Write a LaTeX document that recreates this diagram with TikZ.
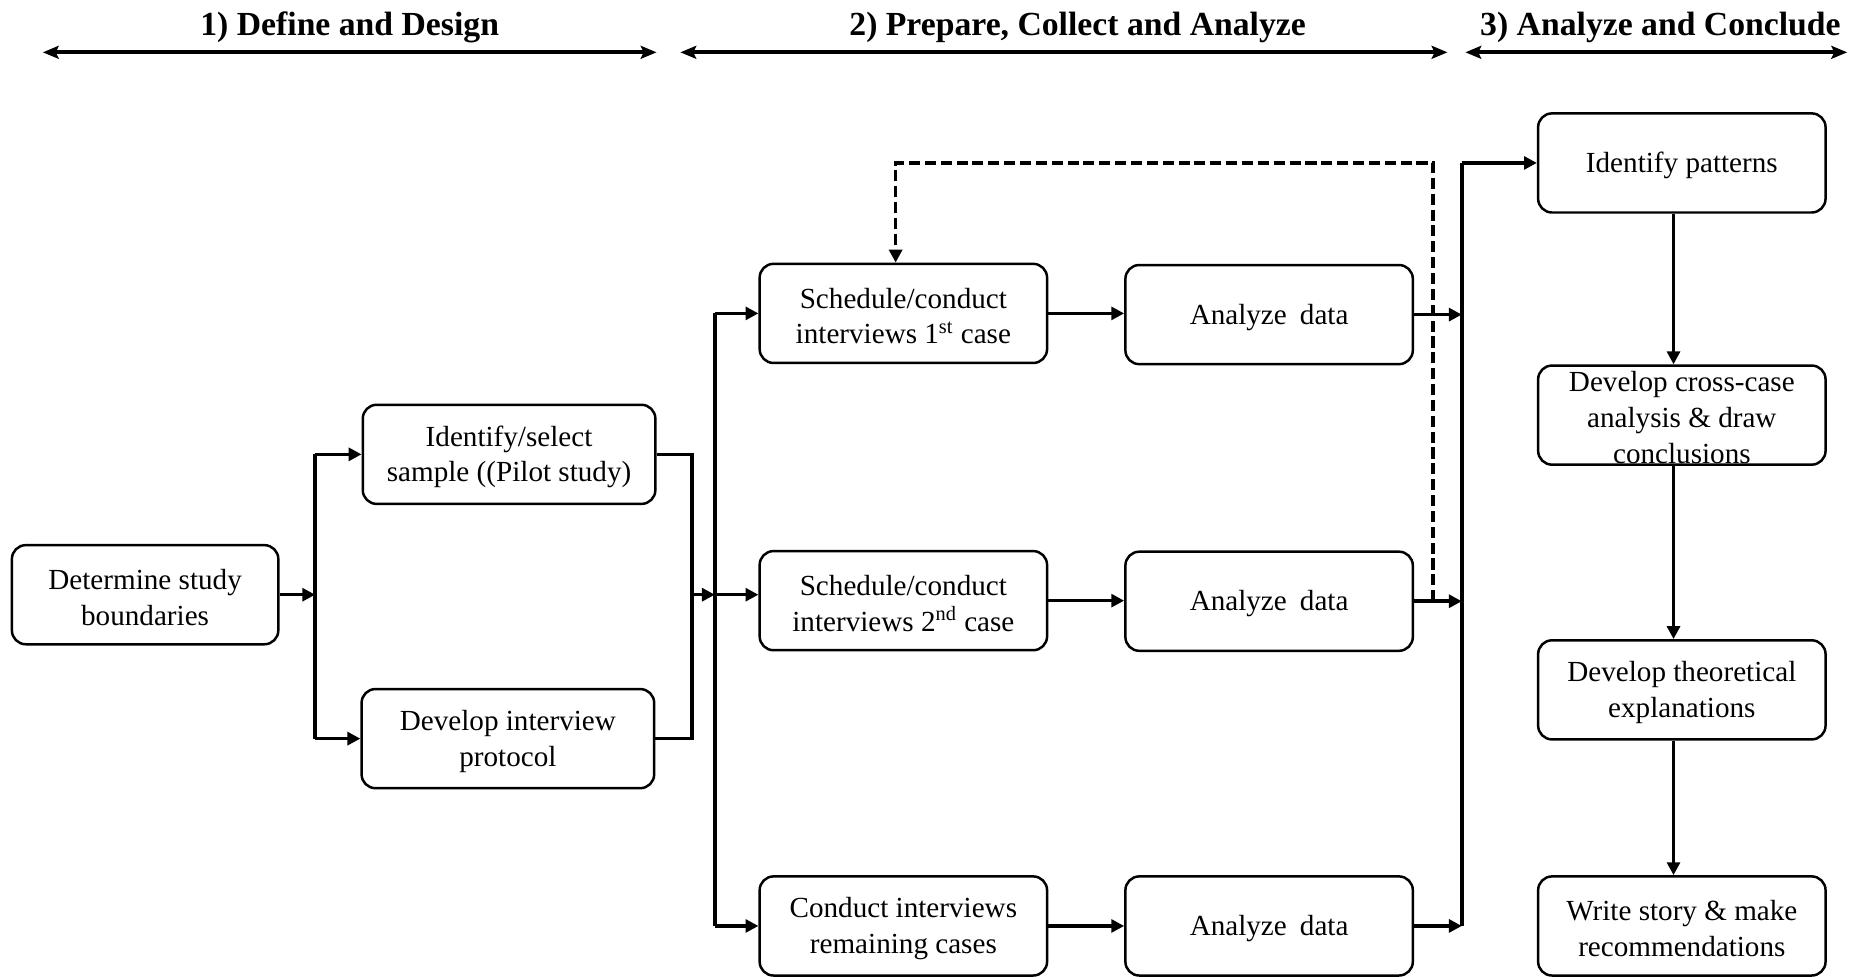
\documentclass[tikz,border=0pt]{standalone}
\usepackage{fontspec}
\setmainfont{Liberation Serif}
\usetikzlibrary{arrows.meta}
\begin{document}
\begin{tikzpicture}[x=0.6pt,y=-0.6pt,
  stepbox/.style={draw, line width=1.25pt, rounded corners=7pt, minimum width=145pt,
    minimum height=50pt, inner sep=0pt},
  boxtext/.style={align=center, inner sep=0pt, yshift=-1.3pt,
    font=\fontsize{14.7}{18}\selectfont},
  flow/.style={line width=1.8pt, -{Triangle[length=6.5pt,width=6.5pt]}},
  link/.style={line width=1.8pt},
  feedback/.style={line width=1.8pt, dash pattern=on 5.6pt off 2.4pt,
    -{Triangle[length=6.5pt,width=6.5pt]}},
  phase/.style={font=\fontsize{17}{20}\selectfont\bfseries, anchor=base, inner sep=0pt},
  phasearrow/.style={line width=2pt,
    {Stealth[length=8pt,width=6.5pt,inset=1.5pt]}-{Stealth[length=8pt,width=6.5pt,inset=1.5pt]}},
]
\useasboundingbox (0,0) rectangle (1568,821);

% phase headings and their spans
\node[phase] (h1) at (294,29.5) {1) Define and Design};
\node[phase] (h2) at (906,29.5) {2) Prepare, Collect and Analyze};
\node[phase] (h3) at (1396,29.5) {3) Analyze and Conclude};
\coordinate (s1l) at (36,44);   \coordinate (s1r) at (552,44);
\coordinate (s2l) at (572,44);  \coordinate (s2r) at (1217,44);
\coordinate (s3l) at (1232,44); \coordinate (s3r) at (1553,44);
\draw[phasearrow] (s1l) -- (s1r);
\draw[phasearrow] (s2l) -- (s2r);
\draw[phasearrow] (s3l) -- (s3r);

% boxes, each with its text set as a centred label
\node[stepbox, minimum width=134.4pt, label={[boxtext]center:{Determine study\\boundaries}}] (det) at (122,500) {};
\node[stepbox, minimum width=147.6pt, label={[boxtext]center:{Identify/select\\sample ((Pilot study)}}] (idsel) at (428,382) {};
\node[stepbox, minimum width=147.6pt, label={[boxtext]center:{Develop interview\\protocol}}] (proto) at (427,621) {};

\node[stepbox, label={[boxtext]center:{Schedule/conduct\\interviews 1\textsuperscript{st} case}}] (sch1) at (759.5,263.5) {};
\node[stepbox, label={[boxtext]center:{Schedule/conduct\\interviews 2\textsuperscript{nd} case}}] (sch2) at (759.5,505) {};
\node[stepbox, label={[boxtext]center:{Conduct interviews\\remaining cases}}] (rem) at (759.5,778.5) {};

\node[stepbox, label={[boxtext]center:{Analyze\hspace{0.45em}data}}] (ana1) at (1067,264.5) {};
\node[stepbox, label={[boxtext]center:{Analyze\hspace{0.45em}data}}] (ana2) at (1067,505.5) {};
\node[stepbox, label={[boxtext]center:{Analyze\hspace{0.45em}data}}] (ana3) at (1067,778.5) {};

\node[stepbox, label={[boxtext]center:{Identify patterns}}] (pat) at (1414,137) {};
\node[stepbox, label={[boxtext]center:{Develop cross-case\\analysis \& draw\\conclusions}}] (cross) at (1414,349) {};
\node[stepbox, label={[boxtext]center:{Develop theoretical\\explanations}}] (theo) at (1414,580) {};
\node[stepbox, label={[boxtext]center:{Write story \& make\\recommendations}}] (story) at (1414,778.5) {};

% junction bars
\coordinate (b1) at (265,0);
\coordinate (m1) at (582,0);
\coordinate (b2) at (601,0);
\coordinate (dx) at (1205,0);
\coordinate (b3) at (1229,0);

% phase 1
\draw[flow] (det.east) -- (det.east -| b1);
\draw[link] (b1 |- idsel.west) -- (b1 |- proto.west);
\draw[flow] (b1 |- idsel.west) -- (idsel.west);
\draw[flow] (b1 |- proto.west) -- (proto.west);
\draw[link] (idsel.east) -- (idsel.east -| m1) -- (proto.east -| m1) -- (proto.east);

% phase 2
\draw[flow] (m1 |- det.east) -- (b2 |- det.east);
\draw[link] (b2 |- sch1.west) -- (b2 |- rem.west);
\draw[flow] (b2 |- sch1.west) -- (sch1.west);
\draw[flow] (b2 |- det.east) -- (sch2.west |- det.east);
\draw[flow] (b2 |- rem.west) -- (rem.west);
\draw[flow] (sch1.east) -- (sch1.east -| ana1.west);
\draw[flow] (sch2.east) -- (sch2.east -| ana2.west);
\draw[flow] (rem.east) -- (rem.east -| ana3.west);

% feedback from the second case to the first
\draw[feedback] (dx |- ana2.east) -- (dx |- pat.west) -| ([xshift=-3.9pt]sch1.north);

% into phase 3
\draw[flow] (ana1.east) -- (ana1.east -| b3);
\draw[flow] (ana2.east) -- (ana2.east -| b3);
\draw[flow] (ana3.east) -- (ana3.east -| b3);
\draw[link] (b3 |- pat.west) -- (b3 |- ana3.east);
\draw[flow] (b3 |- pat.west) -- (pat.west);

% phase 3 chain
\draw[flow] ([xshift=-4.2pt]pat.south) -- ([xshift=-4.2pt]cross.north);
\draw[flow] ([xshift=-4.2pt]cross.south) -- ([xshift=-4.2pt]theo.north);
\draw[flow] ([xshift=-4.2pt]theo.south) -- ([xshift=-4.2pt]story.north);
\end{tikzpicture}
\end{document}
